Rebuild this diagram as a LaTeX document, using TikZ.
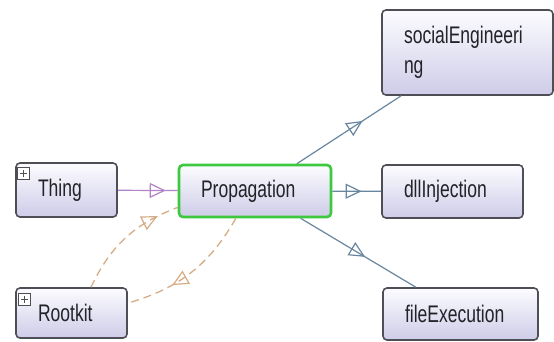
\documentclass[tikz,border=0pt]{standalone}
\usepackage{fontspec}
\setmainfont[FakeStretch=0.73]{Liberation Sans}
\usetikzlibrary{positioning,arrows.meta,decorations.markings}
\definecolor{boxtop}{RGB}{252,252,255}
\definecolor{boxbottom}{RGB}{206,204,232}
\definecolor{boxline}{RGB}{78,78,86}
\definecolor{selgreen}{RGB}{62,200,62}
\definecolor{subline}{RGB}{104,134,160}
\definecolor{thingline}{RGB}{178,132,198}
\definecolor{dashline}{RGB}{214,172,132}
\definecolor{labeltext}{RGB}{34,34,40}
\begin{document}
\begin{tikzpicture}[x=1pt, y=-1pt,
  openhead/.style={postaction={decorate}, decoration={markings, mark=at position #1 with {\arrow{Triangle[open, length=16pt, width=15pt, line width=1.2pt]}}}}]
\tikzstyle{cls} = [rectangle, rounded corners=4pt, draw=boxline, line width=1.6pt, top color=boxtop, bottom color=boxbottom, text=labeltext, inner xsep=22pt, inner ysep=0pt, align=left, font=\fontsize{24}{30}\selectfont]
\tikzstyle{sel} = [draw=selgreen, line width=2.6pt]
\tikzstyle{plusbox} = [rectangle, draw=boxline, line width=0.6pt, fill=white, minimum size=12pt, inner sep=0pt, path picture={\draw[boxline, line width=1.2pt] ([xshift=-3.5pt]path picture bounding box.center) -- ([xshift=3.5pt]path picture bounding box.center) ([yshift=-3.5pt]path picture bounding box.center) -- ([yshift=3.5pt]path picture bounding box.center);}]
\tikzstyle{subedge} = [draw=subline, line width=1.2pt]
\tikzstyle{depedge} = [draw=dashline, line width=1.3pt, dash pattern=on 8pt off 5pt]
\path[use as bounding box, fill=white] (0,0) rectangle (554,341);
\node (thing)[cls, text width=57pt, minimum height=54pt] at (66.5,190) {Thing};
\node (rootkit)[cls, text width=67pt, minimum height=50pt] at (71.5,313) {Rootkit};
\node (prop)[cls, sel, text width=108pt, minimum height=52pt] at (255,191) {Propagation};
\node (social)[cls, text width=127pt, minimum height=85pt] at (467.5,52.5) {socialEngineeri\\ng};
\node (dll)[cls, text width=97pt, minimum height=53pt] at (452.5,191.5) {dllInjection};
\node (file)[cls, text width=111pt, minimum height=52pt] at (460.5,314) {fileExecution};
\node (thingplus)[plusbox, below right=5pt and 2pt of thing.north west] {};
\node (rootkitplus)[plusbox, below right=6pt and 3pt of rootkit.north west] {};
\draw [thingline, line width=1.2pt, openhead=0.8] (thing) -- (prop);
\draw [subedge, openhead=0.6] (prop) -- (dll);
\draw [subedge, openhead=0.63] (prop) -- (social);
\draw [subedge, openhead=0.56] (prop) -- (file);
\draw [depedge, openhead=0.82] (rootkit.53) to[bend left=22] (prop.192);
\draw [depedge, openhead=0.66] (prop.235) to[bend left=22] (rootkit.10);
\end{tikzpicture}
\end{document}
